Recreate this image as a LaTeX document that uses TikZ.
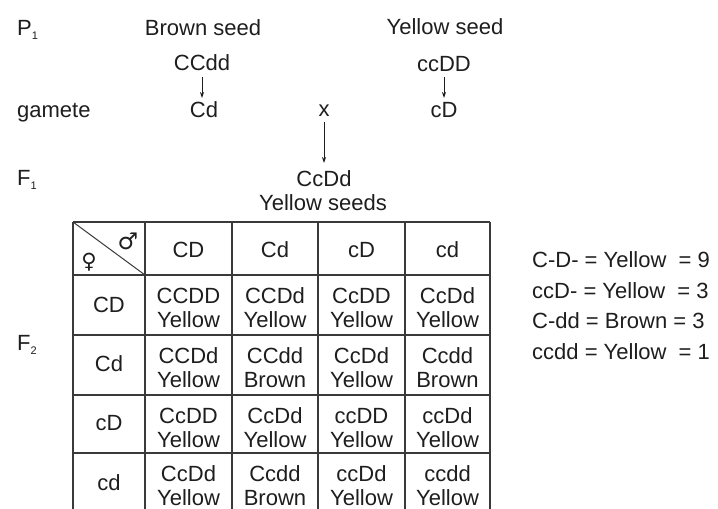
\documentclass[tikz,border=0pt]{standalone}
\usepackage{fontspec}
\setmainfont{Liberation Sans}
\newfontfamily\symfont{DejaVu Sans}
\usetikzlibrary{arrows.meta}
\definecolor{ink}{HTML}{1E1E1E}
\definecolor{rule}{HTML}{3A3A3A}
\begin{document}
\begin{tikzpicture}[x=1pt,y=-1pt,
  txt/.style={text=ink,inner sep=0pt,anchor=base,font=\fontsize{22}{25}\selectfont},
  lbl/.style={txt,anchor=base west},
  arr/.style={draw=ink,line width=0.9pt,-{Stealth[length=6pt,width=4pt]}},
  grid/.style={draw=rule,line width=1.1pt}]
\useasboundingbox[fill=white] (0,0) rectangle (718,509);
% generation labels
\node[lbl] (p1) at (17,35) {P\raisebox{-4pt}{\fontsize{11}{11}\selectfont 1}};
\node[lbl] (gam) at (17,117) {gamete};
\node[lbl] (f1) at (17,185) {F\raisebox{-4pt}{\fontsize{11}{11}\selectfont 1}};
\node[lbl] (f2) at (17,350) {F\raisebox{-4pt}{\fontsize{11}{11}\selectfont 2}};
% parents
\node[txt] (brown) at (203,35) {Brown seed};
\node[txt] (yellow) at (445,34) {Yellow seed};
\node[txt] (pa) at (202,70) {CCdd};
\node[txt] (pb) at (444,71) {ccDD};
\node[txt] (ga) at (204,117) {Cd};
\node[txt] (cross) at (324,116) {x};
\node[txt] (gb) at (444,117) {cD};
\node[txt] (f1g) at (324,186) {CcDd};
\node[txt] (f1p) at (323,210) {Yellow seeds};
\coordinate (pa-s) at (202,77);
\coordinate (ga-n) at (202,98);
\coordinate (pb-s) at (444,77);
\coordinate (gb-n) at (444,98);
\coordinate (x-s) at (324,122);
\coordinate (f1-n) at (324,163);
\draw[arr] (pa-s) -- (ga-n);
\draw[arr] (pb-s) -- (gb-n);
\draw[arr] (x-s) -- (f1-n);
% grid
\foreach \x in {73,145,232,318,405,490} \draw[grid] (\x,222) -- (\x,509);
\foreach \y in {222,275,335,395,453} \draw[grid] (73,\y) -- (490,\y);
\draw[grid,line width=1pt] (73,222) -- (145,275);
\node[text=ink,inner sep=0pt,font=\symfont\fontsize{21}{21}\selectfont] (fem) at (89,262) {♀};
\node[text=ink,inner sep=0pt,font=\symfont\fontsize{23}{23}\selectfont] (mal) at (128,241) {♂};
% headers
\foreach \g [count=\i] in {CD,Cd,cD,cd} {
  \pgfmathsetmacro{\cx}{{188.5,275,361.5,447.5}[\i-1]}
  \node[txt] (h\i) at (\cx,257.5) {\g};
}
\node[txt] (r1) at (109,312.5) {CD};
\node[txt] (r2) at (109,371) {Cd};
\node[txt] (r3) at (109,430) {cD};
\node[txt] (r4) at (109,490) {cd};
% cells
\foreach \r/\top/\la/\lb/\lc/\ld/\pa/\pb/\pc/\pd in {
  1/275/CCDD/CCDd/CcDD/CcDd/Yellow/Yellow/Yellow/Yellow,
  2/335/CCDd/CCdd/CcDd/Ccdd/Yellow/Brown/Yellow/Brown,
  3/395/CcDD/CcDd/ccDD/ccDd/Yellow/Yellow/Yellow/Yellow,
  4/453/CcDd/Ccdd/ccDd/ccdd/Yellow/Brown/Yellow/Yellow} {
  \node[txt] (g\r a) at (188.5,\top+28) {\la};
  \node[txt] (g\r b) at (275,\top+28) {\lb};
  \node[txt] (g\r c) at (361.5,\top+28) {\lc};
  \node[txt] (g\r d) at (447.5,\top+28) {\ld};
  \node[txt] (q\r a) at (188.5,\top+52.5) {\pa};
  \node[txt] (q\r b) at (275,\top+52.5) {\pb};
  \node[txt] (q\r c) at (361.5,\top+52.5) {\pc};
  \node[txt] (q\r d) at (447.5,\top+52.5) {\pd};
}
% ratios
\node[lbl] (s1) at (532,267) {C-D- = Yellow\ \ = 9};
\node[lbl] (s2) at (532,298) {ccD- = Yellow\ \ = 3};
\node[lbl] (s3) at (532,328) {C-dd = Brown = 3};
\node[lbl] (s4) at (532,359) {ccdd = Yellow\ \ = 1};
\end{tikzpicture}
\end{document}
